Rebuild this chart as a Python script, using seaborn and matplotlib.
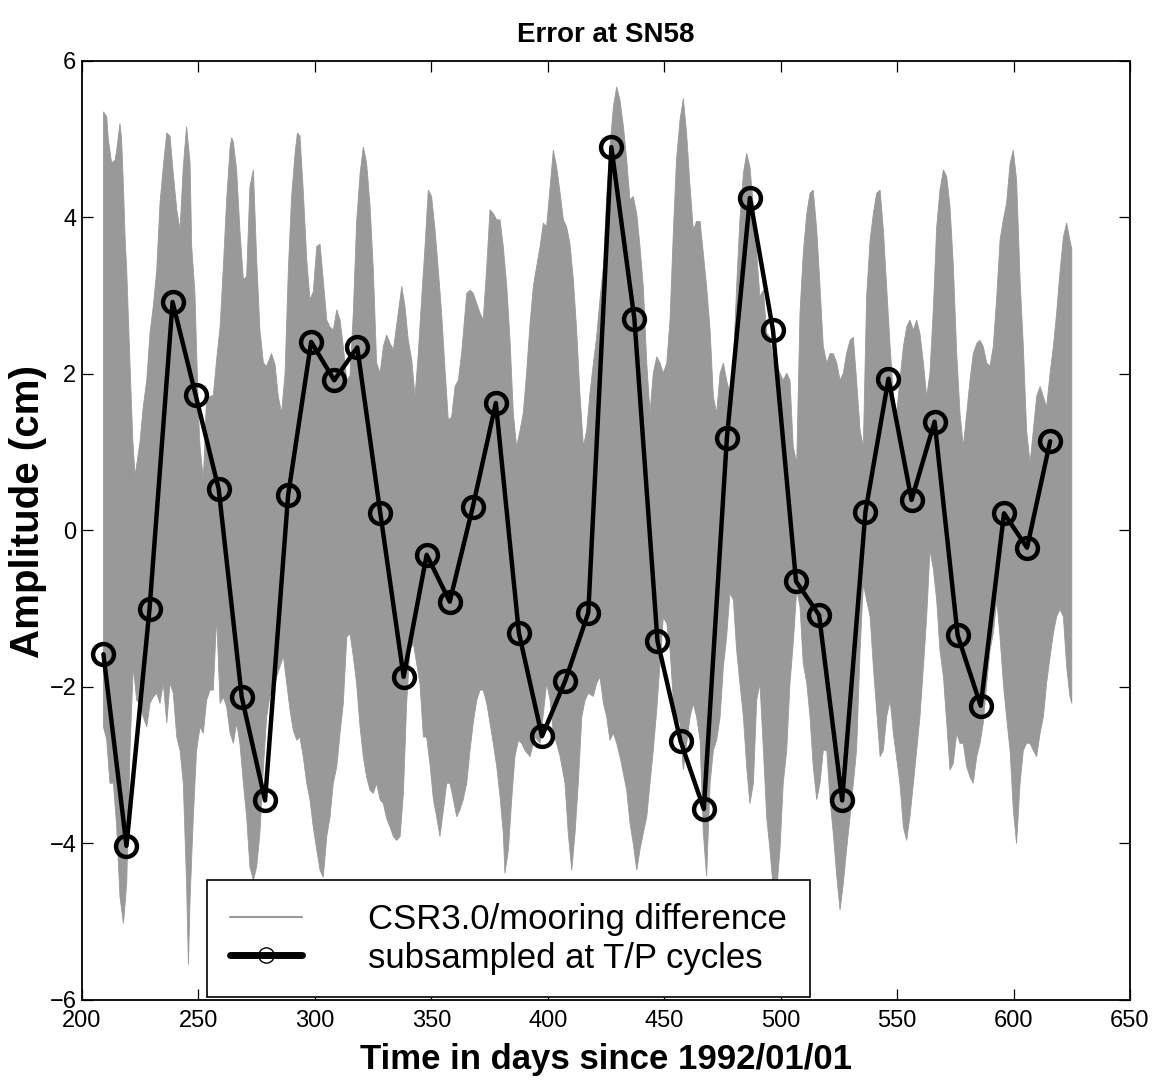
import numpy as np
import pandas as pd
import matplotlib
matplotlib.use("Agg")
import matplotlib.pyplot as plt
from matplotlib.lines import Line2D
import seaborn as sns

# ---------------- data ----------------
TITLE = "Error at SN58"
XLABEL = "Time in days since 1992/01/01"
YLABEL = "Amplitude (cm)"
LEGEND_LABELS = ["CSR3.0/mooring difference", "subsampled at T/P cycles"]
XTICKS = [200, 250, 300, 350, 400, 450, 500, 550, 600, 650]
YTICKS = [-6, -4, -2, 0, 2, 4, 6]

# T/P cycle samples (black line)
cycle_days = [209.2, 219.1, 229.0, 238.9, 248.8, 258.7, 268.6, 278.6, 288.5, 298.4,
              308.3, 318.2, 328.1, 338.1, 348.0, 357.9, 367.8, 377.7, 387.6, 397.5,
              407.5, 417.4, 427.3, 437.2, 447.1, 457.0, 467.0, 476.9, 486.8, 496.7,
              506.6, 516.5, 526.4, 536.4, 546.3, 556.2, 566.1, 576.0, 585.9, 595.9,
              605.8, 615.7]
cycle_err = [-1.58, -4.03, -1.00, 2.92, 1.73, 0.53, -2.13, -3.45, 0.45, 2.41,
             1.92, 2.34, 0.22, -1.87, -0.31, -0.91, 0.30, 1.63, -1.31, -2.63,
             -1.92, -1.05, 4.90, 2.70, -1.41, -2.69, -3.56, 1.18, 4.25, 2.56,
             -0.65, -1.08, -3.45, 0.24, 1.94, 0.39, 1.39, -1.34, -2.24, 0.22,
             -0.22, 1.14]

# upper envelope of the dense CSR3.0/mooring difference signal
upper_days = [209.2, 210.6, 211.3, 212.7, 214.2, 214.9, 216.3, 217.0, 217.8, 218.5,
              219.2, 220.6, 221.8, 222.8, 224.9, 226.3, 227.8, 229.2, 230.6, 232.1,
              233.5, 234.9, 236.4, 237.8, 239.2, 240.7, 242.1, 243.5, 244.9, 246.4,
              247.1, 248.5, 250.0, 250.7, 252.1, 253.5, 255.0, 256.4, 257.8, 259.3,
              260.7, 262.1, 263.6, 264.3, 265.0, 266.4, 267.8, 269.3, 270.7, 272.1,
              273.6, 275.0, 276.4, 277.9, 279.3, 281.4, 282.9, 284.3, 285.7, 287.2,
              288.6, 290.0, 291.5, 292.5, 293.6, 295.0, 296.5, 297.9, 299.3, 300.8,
              302.2, 303.6, 305.1, 306.5, 307.9, 309.4, 310.8, 312.2, 313.7, 315.1,
              316.5, 317.9, 319.4, 320.8, 322.2, 323.7, 325.1, 326.5, 328.0, 329.4,
              330.8, 332.3, 333.7, 335.8, 337.3, 338.7, 340.1, 341.6, 343.0, 344.4,
              345.9, 347.3, 348.7, 350.1, 351.6, 353.0, 354.4, 355.9, 357.3, 358.7,
              360.2, 361.6, 363.0, 365.2, 366.6, 368.0, 369.5, 370.9, 372.3, 373.8,
              375.2, 376.6, 378.1, 379.5, 380.9, 382.4, 383.8, 385.2, 386.6, 388.1,
              389.5, 390.9, 392.4, 393.8, 395.2, 396.7, 398.1, 399.5, 401.0, 402.4,
              403.8, 405.3, 406.7, 408.1, 409.5, 411.0, 412.4, 413.8, 415.3, 416.7,
              418.1, 419.6, 421.0, 422.4, 423.9, 425.3, 426.7, 428.2, 429.6, 431.0,
              432.5, 433.9, 435.3, 436.7, 438.2, 439.6, 441.0, 442.5, 443.9, 445.3,
              446.8, 448.2, 449.6, 451.1, 452.5, 453.9, 455.3, 456.8, 458.2, 459.6,
              461.1, 462.5, 463.9, 465.4, 466.8, 468.2, 469.7, 471.1, 472.5, 474.0,
              475.4, 476.8, 478.2, 479.7, 481.1, 482.5, 484.0, 485.4, 486.8, 488.3,
              489.7, 491.1, 492.6, 494.0, 495.4, 496.9, 498.3, 499.7, 501.1, 502.6,
              504.0, 505.4, 506.9, 508.3, 509.7, 511.2, 512.6, 514.0, 515.5, 516.9,
              518.3, 519.8, 521.2, 522.6, 524.1, 525.5, 526.9, 528.3, 529.8, 531.2,
              532.6, 534.1, 535.5, 536.9, 538.4, 539.8, 541.2, 542.7, 544.1, 545.5,
              547.0, 548.4, 549.8, 551.2, 552.7, 554.1, 555.5, 557.0, 558.4, 559.8,
              561.3, 562.7, 564.1, 565.6, 567.0, 568.4, 569.9, 571.3, 572.7, 574.1,
              575.6, 577.0, 578.4, 579.9, 581.3, 582.7, 584.2, 585.6, 587.0, 588.5,
              589.9, 591.3, 592.8, 594.2, 595.6, 597.0, 598.5, 599.9, 601.3, 602.8,
              604.2, 605.6, 607.1, 608.5, 609.9, 611.4, 612.8, 614.2, 615.7, 617.1,
              618.5, 619.9, 621.4, 622.8, 624.2, 625.0]
upper_vals = [5.35, 5.29, 5.00, 4.70, 4.73, 4.86, 5.20, 5.00, 4.39, 3.75,
              3.33, 2.14, 1.16, 0.70, 1.13, 1.58, 1.92, 2.52, 2.86, 3.33,
              4.18, 4.65, 5.08, 5.04, 4.56, 4.10, 3.84, 4.65, 5.16, 4.70,
              3.63, 3.03, 1.50, 1.07, 0.65, 1.71, 1.71, 1.73, 2.18, 2.60,
              3.37, 4.22, 4.90, 5.02, 4.96, 4.61, 3.84, 3.20, 3.25, 4.39,
              4.61, 3.46, 2.56, 2.14, 2.10, 2.26, 2.12, 1.71, 1.50, 2.01,
              3.33, 4.27, 4.82, 5.08, 5.04, 4.35, 3.46, 2.95, 3.05, 3.63,
              3.66, 3.20, 2.69, 2.60, 2.56, 2.82, 2.69, 2.35, 1.92, 1.98,
              2.78, 3.93, 4.56, 4.90, 4.70, 4.14, 3.33, 2.14, 2.01, 2.35,
              2.50, 2.39, 2.31, 2.78, 3.12, 2.86, 2.43, 2.18, 1.71, 2.26,
              2.99, 3.63, 4.35, 4.27, 3.84, 3.33, 2.78, 2.05, 1.41, 1.45,
              1.84, 1.92, 2.26, 3.03, 3.07, 3.03, 2.90, 2.78, 2.69, 3.37,
              4.10, 4.05, 3.97, 3.97, 3.63, 3.12, 2.43, 1.50, 1.07, 1.28,
              1.50, 2.01, 2.65, 3.12, 3.37, 3.63, 3.93, 3.88, 4.39, 4.86,
              4.65, 4.31, 3.97, 3.88, 3.67, 3.20, 2.56, 1.75, 1.07, 1.28,
              1.75, 2.14, 2.48, 2.95, 3.37, 4.27, 4.90, 5.42, 5.67, 5.50,
              5.16, 4.73, 4.22, 4.27, 4.05, 3.63, 3.12, 2.14, 1.50, 2.01,
              2.22, 2.14, 2.01, 2.14, 2.69, 3.80, 4.75, 5.25, 5.52, 5.08,
              4.39, 3.84, 3.95, 3.95, 3.54, 3.12, 2.56, 1.71, 1.50, 2.01,
              2.14, 1.92, 1.75, 2.14, 3.12, 3.97, 4.56, 4.82, 4.65, 4.14,
              3.54, 2.99, 3.07, 2.52, 2.47, 2.14, 2.10, 2.01, 1.92, 2.01,
              1.92, 1.07, 0.86, 2.78, 3.54, 4.05, 4.31, 4.35, 3.84, 3.12,
              2.35, 2.14, 2.26, 2.26, 2.14, 1.92, 2.01, 2.26, 2.43, 2.47,
              1.92, 1.28, 1.07, 2.99, 3.71, 4.05, 4.31, 4.35, 3.84, 3.12,
              2.35, 1.71, 1.50, 1.92, 2.35, 2.60, 2.69, 2.56, 2.69, 2.52,
              2.14, 1.71, 2.01, 2.86, 3.88, 4.35, 4.61, 4.52, 4.14, 3.41,
              2.26, 1.50, 1.07, 1.50, 1.92, 2.26, 2.39, 2.43, 2.35, 2.14,
              2.10, 2.35, 2.99, 3.71, 3.97, 4.18, 4.69, 4.86, 4.48, 3.20,
              2.35, 1.28, 0.86, 1.28, 1.71, 1.84, 1.71, 1.58, 2.01, 2.35,
              2.78, 3.29, 3.75, 3.93, 3.71, 3.60]

# lower envelope of the dense signal
lower_days = [209.2, 210.6, 212.0, 213.5, 214.9, 216.3, 217.8, 219.2, 220.6, 222.0,
              223.5, 224.9, 226.3, 227.8, 229.2, 230.6, 232.1, 233.5, 234.9, 236.4,
              237.8, 239.2, 240.7, 242.1, 243.5, 244.9, 245.7, 246.4, 247.8, 249.2,
              250.7, 252.1, 253.5, 255.0, 256.4, 257.8, 259.3, 260.7, 262.1, 263.6,
              265.0, 266.4, 267.8, 269.3, 270.7, 272.1, 273.6, 275.0, 276.4, 277.9,
              279.3, 280.7, 282.2, 283.6, 285.0, 286.5, 287.9, 289.3, 290.7, 292.2,
              293.6, 295.0, 296.5, 297.9, 299.3, 300.8, 302.2, 303.6, 305.1, 306.5,
              307.9, 309.4, 310.8, 312.2, 313.7, 315.1, 316.5, 317.9, 319.4, 320.8,
              322.2, 323.7, 325.1, 326.5, 328.0, 329.4, 330.8, 332.3, 333.7, 335.1,
              336.6, 338.0, 339.4, 340.8, 342.3, 343.7, 345.1, 346.6, 348.0, 349.4,
              350.9, 352.3, 353.7, 355.2, 356.6, 358.0, 359.5, 360.9, 362.3, 363.7,
              365.2, 366.6, 368.0, 369.5, 370.9, 372.3, 373.8, 375.2, 376.6, 378.1,
              379.5, 380.9, 381.6, 383.1, 384.5, 385.9, 387.4, 388.8, 390.2, 392.4,
              394.5, 396.7, 398.1, 399.5, 401.0, 402.4, 403.8, 405.3, 407.4, 408.8,
              410.3, 411.7, 413.1, 414.6, 416.0, 417.4, 419.6, 421.0, 422.4, 423.9,
              425.3, 426.7, 428.2, 429.6, 431.0, 432.5, 433.9, 435.3, 436.7, 438.2,
              439.6, 441.0, 442.5, 443.9, 445.3, 446.8, 448.2, 449.6, 451.1, 452.5,
              453.9, 455.3, 456.8, 458.2, 461.1, 462.5, 463.9, 465.4, 466.8, 468.2,
              469.7, 471.1, 472.5, 474.0, 475.4, 476.8, 478.2, 479.7, 481.1, 482.5,
              484.0, 485.4, 486.8, 488.3, 489.7, 491.1, 492.6, 494.0, 495.4, 496.9,
              498.3, 499.7, 501.1, 502.6, 504.0, 505.4, 506.9, 508.3, 509.7, 511.2,
              512.6, 514.0, 515.5, 516.9, 518.3, 519.8, 521.2, 522.6, 524.1, 525.5,
              526.9, 528.3, 529.8, 531.2, 532.6, 534.1, 535.5, 536.9, 538.4, 539.8,
              541.2, 542.7, 544.1, 545.5, 547.0, 548.4, 551.2, 552.7, 554.1, 555.5,
              557.0, 558.4, 559.8, 561.3, 562.7, 564.1, 565.6, 567.0, 568.4, 569.9,
              571.3, 572.7, 574.1, 575.6, 577.0, 578.4, 579.9, 581.3, 582.7, 584.2,
              585.6, 587.0, 588.5, 589.9, 591.3, 592.8, 594.2, 595.6, 597.0, 598.5,
              599.9, 601.3, 602.8, 604.2, 605.6, 607.1, 608.5, 609.9, 611.4, 612.8,
              614.2, 615.7, 617.1, 618.5, 619.9, 621.4, 622.8, 624.2, 625.0]
lower_vals = [-2.51, -2.67, -3.23, -3.23, -3.79, -4.68, -5.02, -4.51, -2.81, -1.74,
              -2.17, -2.22, -2.38, -2.51, -2.21, -2.13, -2.08, -2.21, -1.95, -2.46,
              -1.95, -2.08, -2.64, -2.81, -3.23, -4.51, -5.55, -4.72, -3.66, -2.81,
              -2.51, -2.59, -2.17, -2.04, -2.04, -1.10, -2.21, -2.13, -2.25, -2.59,
              -2.72, -2.46, -2.72, -3.23, -3.66, -4.30, -4.47, -4.30, -3.87, -3.02,
              -2.38, -2.12, -2.04, -1.87, -1.74, -1.61, -1.95, -2.29, -2.55, -2.68,
              -2.64, -2.89, -3.23, -3.44, -3.79, -4.08, -4.34, -4.43, -3.91, -3.66,
              -3.23, -3.02, -2.59, -2.21, -1.36, -1.32, -1.61, -1.95, -2.51, -2.89,
              -3.15, -3.32, -3.36, -3.23, -3.44, -3.49, -3.68, -3.79, -3.91, -3.96,
              -3.91, -3.36, -2.21, -1.53, -1.44, -1.70, -1.95, -2.64, -2.64, -2.98,
              -3.44, -3.66, -3.91, -3.57, -3.23, -3.23, -3.44, -3.66, -3.57, -3.44,
              -3.23, -2.81, -2.46, -2.17, -2.04, -2.04, -2.21, -2.46, -2.72, -3.02,
              -3.40, -3.87, -4.38, -4.08, -3.44, -2.89, -2.68, -2.72, -2.81, -2.89,
              -2.64, -2.72, -2.34, -1.95, -2.17, -2.59, -2.72, -2.89, -3.23, -3.87,
              -4.34, -3.87, -3.23, -2.38, -2.17, -2.08, -2.12, -1.95, -1.87, -2.21,
              -2.38, -2.68, -2.59, -2.72, -2.89, -3.11, -3.32, -3.74, -4.00, -4.34,
              -4.08, -3.87, -3.66, -3.23, -2.81, -2.29, -1.70, -1.11, -1.19, -1.53,
              -2.17, -2.38, -2.46, -3.06, -2.38, -2.21, -2.38, -2.68, -3.87, -4.42,
              -3.23, -2.81, -2.68, -2.38, -1.74, -1.36, -0.80, -0.89, -1.53, -1.95,
              -2.38, -3.02, -3.49, -3.23, -2.17, -1.95, -2.81, -3.66, -4.08, -4.60,
              -4.60, -4.08, -3.23, -2.81, -1.95, -1.44, -0.76, -0.97, -1.70, -1.95,
              -2.38, -3.02, -3.44, -3.23, -2.81, -2.81, -3.44, -3.87, -4.42, -4.85,
              -4.51, -4.08, -3.66, -3.23, -2.81, -1.53, -0.68, -0.89, -1.10, -1.74,
              -2.29, -2.89, -2.81, -2.38, -2.17, -2.59, -3.23, -3.79, -3.96, -3.66,
              -3.23, -2.81, -2.38, -1.74, -1.10, -0.25, -0.50, -0.89, -1.53, -1.87,
              -2.46, -3.06, -2.98, -2.59, -2.72, -2.72, -3.02, -3.15, -3.23, -2.89,
              -2.72, -2.46, -1.95, -1.53, -1.31, -0.89, -1.36, -1.95, -2.38, -2.81,
              -3.57, -4.00, -3.23, -2.81, -2.72, -2.72, -2.81, -2.89, -2.59, -2.38,
              -1.95, -1.61, -1.31, -1.10, -1.01, -1.10, -1.74, -2.12, -2.21]

assert len(upper_days) == len(upper_vals)
assert len(lower_days) == len(lower_vals)
assert len(cycle_days) == len(cycle_err)

GRAY = "#999999"

# ---------------- styling ----------------
sns.set_style("ticks")
plt.rcParams["font.family"] = ["Liberation Sans", "DejaVu Sans"]
plt.rcParams["axes.unicode_minus"] = True
plt.rcParams["text.color"] = "black"
plt.rcParams["axes.labelcolor"] = "black"
plt.rcParams["xtick.color"] = "black"
plt.rcParams["ytick.color"] = "black"

fig = plt.figure(figsize=(11.6, 10.83), dpi=100)
ax = fig.add_axes([82 / 1160, 1 - 1000 / 1083, (1130 - 82) / 1160, (1000 - 61) / 1083])

# dense difference signal drawn as the band between its envelopes
band_x = np.concatenate([upper_days, lower_days[::-1]])
band_y = np.concatenate([upper_vals, lower_vals[::-1]])
ax.fill(band_x, band_y, color=GRAY, linewidth=0.6, edgecolor=GRAY, zorder=1)

# subsampled series
df = pd.DataFrame({"day": cycle_days, "err": cycle_err})
sns.lineplot(data=df, x="day", y="err", ax=ax, color="black", linewidth=3.2,
             marker="o", markersize=15, markerfacecolor="none",
             markeredgecolor="black", markeredgewidth=3.2, zorder=3, legend=False)

ax.set_xlim(200, 650)
ax.set_ylim(-6, 6)
ax.set_xticks(XTICKS)
ax.set_yticks(YTICKS)
ax.tick_params(direction="in", length=8, width=0.9, top=True, right=True,
               labelsize=17, colors="black")
ax.tick_params(axis="x", pad=7)
ax.tick_params(axis="y", pad=4)
for sp in ax.spines.values():
    sp.set_visible(True)
    sp.set_linewidth(1.3)
    sp.set_color("black")

ax.set_title(TITLE, fontsize=20, fontweight="bold", pad=14, color="black")
ax.set_xlabel(XLABEL, fontsize=25, fontweight="bold", labelpad=8, color="black")
ax.set_ylabel(YLABEL, fontsize=29, fontweight="bold", color="black")
ax.yaxis.set_label_coords(-0.033, 0.52)

handles = [
    Line2D([], [], color=GRAY, linewidth=1.5),
    Line2D([], [], color="black", linewidth=5, marker="o", markersize=11,
           markerfacecolor="none", markeredgecolor="black", markeredgewidth=1),
]
leg = ax.legend(handles, LEGEND_LABELS, loc="lower left",
                bbox_to_anchor=((207 - 82) / 1048, 0.003), borderaxespad=0,
                fontsize=25, frameon=True, fancybox=False, framealpha=1,
                edgecolor="black", handlelength=2.1, handletextpad=1.9,
                borderpad=0.65, labelspacing=0.17)
leg.get_frame().set_linewidth(1.2)
leg.set_zorder(10)
for t in leg.get_texts():
    t.set_color("black")

fig.savefig("out.png", dpi=100, facecolor="white")
